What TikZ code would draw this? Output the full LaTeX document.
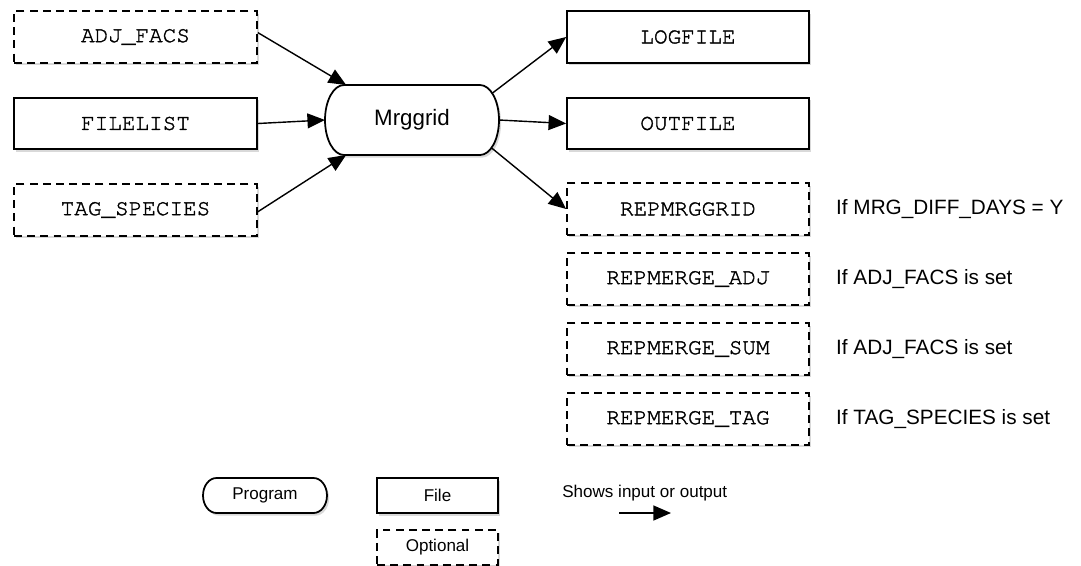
\documentclass[tikz,border=0pt]{standalone}
\usepackage{fontspec}
\setmainfont{Liberation Sans}
\setmonofont{TeX Gyre Cursor}[FakeBold=1.5]
\usetikzlibrary{positioning, arrows.meta, shadows, backgrounds}

% outline of a program node: node, x radius, x control, y control
\newcommand{\progoutline}[4]{%
  \draw[progline] ([xshift=-#2]#1.north east)
    .. controls ([xshift=-#2+#3]#1.north east) and ([yshift=#4]#1.east) .. (#1.east)
    .. controls ([yshift=-#4]#1.east) and ([xshift=-#2+#3]#1.south east) .. ([xshift=-#2]#1.south east)
    -- ([xshift=#2]#1.south west)
    .. controls ([xshift=#2-#3]#1.south west) and ([yshift=-#4]#1.west) .. (#1.west)
    .. controls ([yshift=#4]#1.west) and ([xshift=#2-#3]#1.north west) .. ([xshift=#2]#1.north west)
    -- cycle;}

\begin{document}
\begin{tikzpicture}[
                x=0.02cm, y=-0.02cm,
                node distance=0.335cm,
                shade/.style={drop shadow={shadow xshift=1.2pt, shadow yshift=-1.5pt, opacity=0.3}},
                filebox/.style={draw, line width=1pt, fill=white, shade, minimum height=1.03cm,
                    font=\ttfamily\fontsize{12.9}{14}\selectfont},
                optbox/.style={filebox, dash pattern=on 4.5pt off 3pt},
                progline/.style={line width=1pt, fill=white, shade},
                progbox/.style={outer sep=0pt, minimum width=3.48cm, minimum height=1.4cm,
                    font=\fontsize{12.7}{14}\selectfont},
                note/.style={anchor=west, inner sep=0pt, font=\fontsize{11.8}{13}\selectfont},
                keybox/.style={draw, line width=1pt, fill=white, shade, minimum width=2.42cm,
                    minimum height=0.7cm, font=\fontsize{9.7}{11}\selectfont},
                flow/.style={->, >={Triangle[length=10pt, width=8.5pt]}, line width=0.8pt}
                ]

                \useasboundingbox (0,0) rectangle (1081,565);

                % inputs
                \node[optbox, minimum width=4.86cm] (adj) at (135.5,37) {ADJ\_FACS};
                \node[filebox, minimum width=4.86cm] (filelist) at (135.5,123.5) {FILELIST};
                \node[optbox, minimum width=4.86cm] (tag) at (135.5,210) {TAG\_SPECIES};

                % program
                \node[progbox] (mrggrid) at (412,120) {Mrggrid};

                % outputs
                \node[filebox, minimum width=4.84cm] (logfile) at (688,37) {LOGFILE};
                \node[filebox, minimum width=4.84cm] (outfile) at (688,123.5) {OUTFILE};
                \node[optbox, minimum width=4.84cm] (repmrg) at (688,209) {REPMRGGRID};
                \node[optbox, minimum width=4.84cm] (repadj) [below=of repmrg] {REPMERGE\_ADJ};
                \node[optbox, minimum width=4.84cm] (repsum) [below=of repadj] {REPMERGE\_SUM};
                \node[optbox, minimum width=4.84cm] (reptag) [below=of repsum] {REPMERGE\_TAG};

                % conditions
                \node[note, right=0.52cm of repmrg] (cmrg) {If MRG\_DIFF\_DAYS = Y};
                \node[note, right=0.52cm of repadj] (cadj) {If ADJ\_FACS is set};
                \node[note, right=0.52cm of repsum] (csum) {If ADJ\_FACS is set};
                \node[note, right=0.52cm of reptag] (ctag) {If TAG\_SPECIES is set};

                % edges
                \draw[flow] ([yshift=2.5pt]adj.east) -- (mrggrid.152);
                \draw[flow] (filelist.east) -- (mrggrid.west);
                \draw[flow] ([yshift=-1pt]tag.east) -- (mrggrid.208);
                \draw[flow] ([xshift=-0.14cm]mrggrid.17) -- (logfile.west);
                \draw[flow] (mrggrid.east) -- (outfile.west);
                \draw[flow] ([xshift=-0.14cm]mrggrid.-18) -- (repmrg.west);

                % legend
                \node[progbox, minimum width=2.48cm, minimum height=0.7cm,
                    font=\fontsize{9.7}{11}\selectfont] (kprog) at (265,495.5) {Program};
                \node[keybox] (kfile) at (437.5,495.5) {File};
                \node[keybox, dash pattern=on 4.5pt off 3pt] (kopt) at (437.5,547.5) {Optional};
                \node[note, font=\fontsize{9.7}{11}\selectfont] (karrow) at (562,493) {Shows input or output};
                \coordinate (ka) at (619,513);
                \coordinate (kb) at (671,513);
                \draw[flow] (ka) -- (kb);

                % program outlines
                \begin{scope}[on background layer]
                    \progoutline{mrggrid}{0.38cm}{0.21cm}{0.386cm}
                    \progoutline{kprog}{0.27cm}{0.15cm}{0.193cm}
                \end{scope}
            \end{tikzpicture}
\end{document}
